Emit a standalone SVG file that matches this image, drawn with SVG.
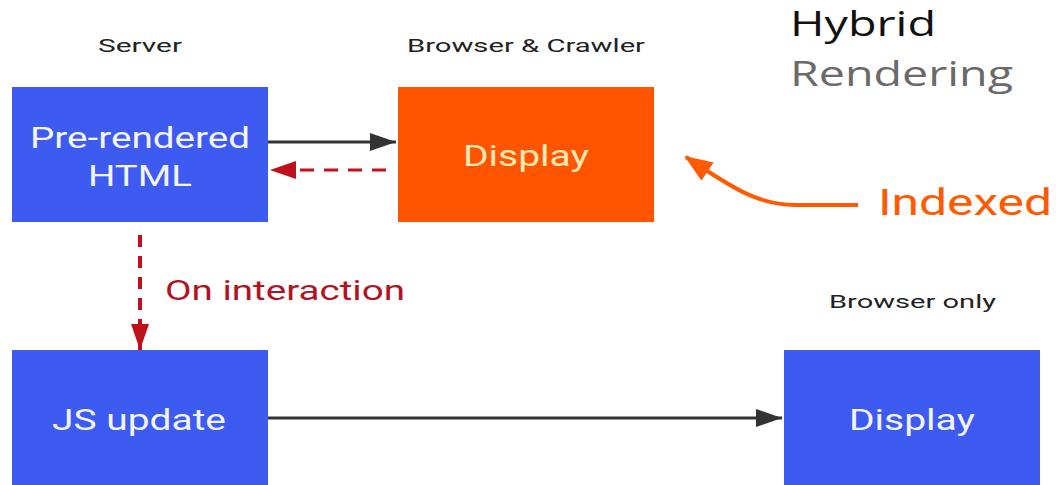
<svg xmlns="http://www.w3.org/2000/svg" width="1056" height="485" viewBox="0 0 1056 485">
<defs>
<style>
.blue{fill:#3d5af1}
.orange{fill:#ff5500}
.lbl{font-family:Roboto,"Liberation Sans",sans-serif;font-size:19px;fill:#222}
.box{font-family:Roboto,"Liberation Sans",sans-serif;font-size:30px;fill:#f2f4ff}
.title{font-family:"Open Sans",Roboto,sans-serif;font-size:35px}
</style>
<marker id="abk" markerWidth="26" markerHeight="18" refX="26" refY="9" orient="auto" markerUnits="userSpaceOnUse"><path d="M0,0 L26,9 L0,18 z" fill="#333"/></marker>
<marker id="ar" markerWidth="26" markerHeight="18" refX="26" refY="9" orient="auto" markerUnits="userSpaceOnUse"><path d="M0,0 L26,9 L0,18 z" fill="#c0101a"/></marker>
<marker id="ao" markerWidth="28" markerHeight="22" refX="26" refY="11" orient="auto" markerUnits="userSpaceOnUse"><path d="M0,0 L28,11 L0,22 z" fill="#ff5a00"/></marker>
</defs>
<rect width="1056" height="485" fill="#ffffff"/>
<g id="title">
<text class="title" x="790" y="36" fill="#111" textLength="146" lengthAdjust="spacingAndGlyphs">Hybrid</text>
<text class="title" x="790" y="86" fill="#6a6a6a" textLength="223" lengthAdjust="spacingAndGlyphs">Rendering</text>
</g>
<g id="labels">
<text class="lbl" x="98" y="52" textLength="84" lengthAdjust="spacingAndGlyphs">Server</text>
<text class="lbl" x="407" y="52" textLength="238" lengthAdjust="spacingAndGlyphs">Browser &amp; Crawler</text>
<text class="lbl" x="829" y="308" textLength="167" lengthAdjust="spacingAndGlyphs">Browser only</text>
</g>
<g id="prerendered">
<rect class="blue" x="12" y="87" width="256" height="135"/>
<text class="box" x="30" y="148" textLength="220" lengthAdjust="spacingAndGlyphs">Pre-rendered</text>
<text class="box" x="88" y="186" textLength="104" lengthAdjust="spacingAndGlyphs">HTML</text>
</g>
<g id="display-crawler">
<rect class="orange" x="398" y="87" width="256" height="135"/>
<text class="box" x="463" y="166" style="fill:#ffe9b5" textLength="126" lengthAdjust="spacingAndGlyphs">Display</text>
</g>
<g id="jsupdate">
<rect class="blue" x="12" y="350" width="256" height="140"/>
<text class="box" x="52" y="430" textLength="174" lengthAdjust="spacingAndGlyphs">JS update</text>
</g>
<g id="display-browser">
<rect class="blue" x="784" y="350" width="256" height="140"/>
<text class="box" x="849" y="430" textLength="126" lengthAdjust="spacingAndGlyphs">Display</text>
</g>
<g id="indexed">
<text x="878" y="215" font-family="Roboto,'Liberation Sans',sans-serif" font-size="37" fill="#ff5a00" textLength="174" lengthAdjust="spacingAndGlyphs">Indexed</text>
</g>
<g id="connectors" fill="none">
<line x1="268" y1="142" x2="396" y2="142" stroke="#333" stroke-width="3" marker-end="url(#abk)"/>
<line x1="386" y1="170" x2="270" y2="170" stroke="#c0101a" stroke-width="3" stroke-dasharray="14,10" marker-end="url(#ar)"/>
<line x1="140" y1="235" x2="140" y2="350" stroke="#c0101a" stroke-width="4" stroke-dasharray="12,9" marker-end="url(#ar)"/>
<line x1="268" y1="418" x2="782" y2="418" stroke="#333" stroke-width="3" marker-end="url(#abk)"/>
<path d="M858,205 L795,205 C760,205 735,190 686,157" stroke="#ff5a00" stroke-width="4" marker-end="url(#ao)"/>
<text x="165" y="300" font-family="Roboto,'Liberation Sans',sans-serif" font-size="28" fill="#b3131f" stroke="none" textLength="240" lengthAdjust="spacingAndGlyphs">On interaction</text>
</g>
</svg>
